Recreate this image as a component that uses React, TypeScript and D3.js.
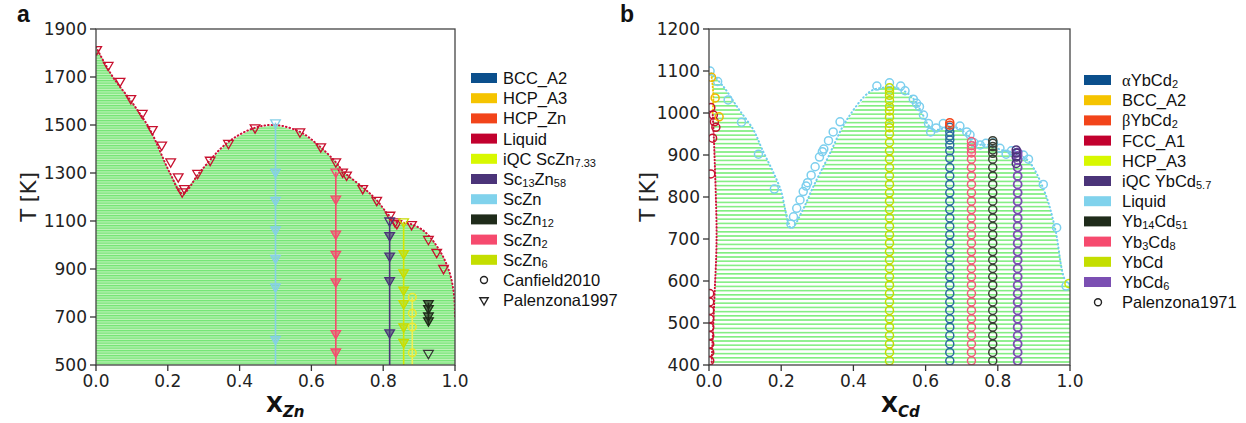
import React from "react";
import * as d3 from "d3";

// ---------------- DATA: panel a (Sc–Zn) ----------------
const aLiquidus: [number, number][] = [
  [0, 1825], [0.047, 1700], [0.1, 1595], [0.15, 1482], [0.206, 1300], [0.241, 1215],
  [0.29, 1305], [0.364, 1424], [0.438, 1486], [0.5, 1500], [0.57, 1470], [0.62, 1415],
  [0.665, 1350], [0.69, 1305], [0.745, 1238], [0.78, 1190], [0.815, 1125], [0.835, 1098],
  [0.855, 1092], [0.88, 1086], [0.912, 1060], [0.94, 1015], [0.967, 951], [0.985, 885],
  [0.993, 835], [0.998, 780], [1.0, 700],
];
const aLiquidTri: [number, number][] = [
  [0.002, 1815], [0.034, 1749], [0.067, 1683], [0.097, 1611], [0.129, 1549], [0.157, 1482],
  [0.183, 1417], [0.208, 1347], [0.229, 1285], [0.246, 1236], [0.240, 1222], [0.283, 1299],
  [0.318, 1354], [0.369, 1424], [0.443, 1489], [0.568, 1472], [0.626, 1410], [0.668, 1347],
  [0.687, 1305], [0.698, 1292], [0.743, 1236], [0.782, 1187], [0.819, 1125], [0.833, 1097],
  [0.838, 1090], [0.879, 1086], [0.926, 1024], [0.949, 970], [0.968, 903],
];
const aScZnT = [1510, 1305, 1187, 1064, 945, 826, 608];
const aScZn2T = [1305, 1192, 1046, 962, 847, 632, 555];
const aSc13Zn58T = [1101, 1040, 955, 852, 635];
const aScZn6T = [1097, 965, 885, 813, 757, 660, 595];
const aIQCT = [782, 716, 658, 551];
const aScZn12T = [757, 736, 705, 685];
const aGrayTri: [number, number][] = [[0.926, 549]];
const aYTicks = [500, 700, 900, 1100, 1300, 1500, 1700, 1900];
const xTicks = [0, 0.2, 0.4, 0.6, 0.8, 1.0];

// ---------------- DATA: panel b (Yb–Cd) ----------------
const bLiquidus: [number, number][] = [
  [0.006, 1095], [0.04, 1063], [0.081, 1011], [0.123, 960], [0.146, 916], [0.197, 821],
  [0.228, 726], [0.26, 770], [0.289, 825], [0.33, 895], [0.381, 983], [0.446, 1051],
  [0.48, 1060], [0.52, 1060], [0.56, 1040], [0.585, 1008], [0.605, 975], [0.62, 960],
  [0.645, 962], [0.667, 968], [0.695, 962], [0.72, 945], [0.74, 926], [0.775, 924],
  [0.81, 912], [0.85, 904], [0.88, 890], [0.9, 868], [0.935, 800], [0.96, 720],
  [0.985, 605], [1.0, 592],
];
const bSolvus: [number, number][] = [
  [0.007, 400], [0.012, 500], [0.016, 580], [0.02, 660], [0.021, 720], [0.019, 800],
  [0.016, 880], [0.013, 950], [0.01, 1000],
];
const bBccLine: [number, number][] = [[0.01, 1000], [0.012, 1040], [0.009, 1075], [0.006, 1095]];
const bLiquidCirc: [number, number][] = [
  [0.003, 1100], [0.024, 1075], [0.053, 1031], [0.09, 978], [0.137, 902], [0.181, 819],
  [0.227, 736], [0.234, 753], [0.243, 773], [0.252, 793], [0.261, 813], [0.269, 826],
  [0.273, 834], [0.283, 852], [0.294, 872], [0.306, 895], [0.314, 908], [0.318, 914],
  [0.331, 934], [0.344, 955], [0.363, 979], [0.465, 1064], [0.5, 1072], [0.531, 1064],
  [0.543, 1053], [0.566, 1033], [0.575, 1023], [0.583, 1015], [0.594, 995], [0.608, 975],
  [0.614, 955], [0.629, 964], [0.649, 975], [0.695, 969], [0.714, 955], [0.723, 948],
  [0.734, 929], [0.751, 924], [0.767, 928], [0.788, 929], [0.806, 916], [0.823, 902],
  [0.838, 910], [0.871, 900], [0.885, 890], [0.926, 830], [0.963, 727], [0.989, 588],
];
const bFccCirc: [number, number][] = [
  [0.002, 410], [0.002, 430], [0.002, 450], [0.002, 470], [0.002, 490], [0.002, 510],
  [0.002, 530], [0.002, 550], [0.002, 570], [0.005, 855], [0.01, 940], [0.019, 966],
  [0.015, 979], [0.012, 995], [0.005, 1013],
];
const bBccCirc: [number, number][] = [[0.007, 1085], [0.017, 1036], [0.028, 991]];
const bHcpCirc: [number, number][] = [[0.997, 594]];
const bYbCdT = [410, 430, 450, 470, 490, 510, 530, 550, 570, 590, 610, 630, 650, 670, 690, 710, 730, 750, 770, 790, 810, 830, 850, 870, 890, 910, 930, 950, 965, 975, 990, 1005, 1015, 1030, 1042, 1052, 1060];
const bAlphaT = [410, 430, 450, 470, 490, 510, 530, 550, 570, 590, 610, 630, 650, 670, 690, 710, 730, 750, 770, 790, 810, 830, 850, 870, 892, 910, 924, 936, 945, 955, 966];
const bBetaT = [971, 977];
const bYb3Cd8T = [410, 430, 450, 470, 490, 510, 530, 550, 570, 590, 610, 630, 650, 670, 690, 710, 730, 750, 770, 790, 810, 830, 850, 870, 890, 905, 914, 922, 932];
const bYb14Cd51T = [410, 430, 450, 470, 490, 510, 530, 550, 570, 590, 610, 630, 650, 670, 690, 710, 730, 750, 770, 790, 810, 830, 850, 870, 890, 904, 912, 920, 928, 934];
const bYbCd6T = [410, 430, 450, 470, 490, 510, 530, 550, 570, 590, 610, 630, 650, 670, 690, 710, 730, 750, 770, 790, 810, 830, 850, 870, 888, 898, 906];
const bIQCT = [880, 895, 905, 912];
const bYTicks = [400, 500, 600, 700, 800, 900, 1000, 1100, 1200];

// ---------------- legends ----------------
const legendA = ["BCC_A2", "HCP_A3", "HCP_Zn", "Liquid", "iQC ScZn_{7.33}", "Sc_{13}Zn_{58}", "ScZn", "ScZn_{12}", "ScZn_{2}", "ScZn_{6}"];
const legendAColors = ["#0b4f8c", "#f5c400", "#f2441a", "#c2002e", "#d8f800", "#4b3479", "#80d2ec", "#1f2b1a", "#f64a6e", "#c4de00"];
const legendB = ["αYbCd_{2}", "BCC_A2", "βYbCd_{2}", "FCC_A1", "HCP_A3", "iQC YbCd_{5.7}", "Liquid", "Yb_{14}Cd_{51}", "Yb_{3}Cd_{8}", "YbCd", "YbCd_{6}"];
const legendBColors = ["#0b4f8c", "#f5c400", "#f2441a", "#c2002e", "#d8f800", "#4b3479", "#80d2ec", "#1f2b1a", "#f64a6e", "#c4de00", "#7b4fb2"];

// ---------------- layout ----------------
const W = 1246, H = 423;
const ax = d3.scaleLinear().domain([0, 1]).range([96, 455]);
const ay = d3.scaleLinear().domain([500, 1900]).range([365, 29]);
const bx = d3.scaleLinear().domain([0, 1]).range([709, 1070]);
const by = d3.scaleLinear().domain([400, 1200]).range([365, 29]);

const TICKF = "DejaVu Sans, sans-serif";
const LEGF = "Liberation Sans, Arial, sans-serif";
const triPath = d3.symbol(d3.symbolTriangle, 40)() as string;

function parseLabel(s: string) {
  const parts: { t: string; sub: boolean }[] = [];
  const re = /_\{([^}]*)\}/g;
  let last = 0;
  let m: RegExpExecArray | null;
  while ((m = re.exec(s))) {
    if (m.index > last) parts.push({ t: s.slice(last, m.index), sub: false });
    parts.push({ t: m[1], sub: true });
    last = m.index + m[0].length;
  }
  if (last < s.length) parts.push({ t: s.slice(last), sub: false });
  return parts;
}

function LegendLabel({ x, y, label }: { x: number; y: number; label: string }) {
  const parts = parseLabel(label);
  let prevSub = false;
  return (
    <text x={x} y={y} fontFamily={LEGF} fontSize={16.5} fill="#111" dominantBaseline="central">
      {parts.map((p, i) => {
        const dy = p.sub && !prevSub ? 4 : !p.sub && prevSub ? -4 : 0;
        prevSub = p.sub;
        const chars = p.t.startsWith("α") || p.t.startsWith("β");
        if (chars) {
          return (
            <React.Fragment key={i}>
              <tspan fontFamily="Liberation Serif, serif" dy={dy}>{p.t[0]}</tspan>
              <tspan>{p.t.slice(1)}</tspan>
            </React.Fragment>
          );
        }
        return (
          <tspan key={i} dy={dy} fontSize={p.sub ? 11 : 16.5}>{p.t}</tspan>
        );
      })}
    </text>
  );
}

function Frame({ xs, ys, yTicks, yFmt }: { xs: any; ys: any; yTicks: number[]; yFmt: (v: number) => string }) {
  const [x0, x1] = xs.range();
  const [y1, y0] = ys.range();
  return (
    <g>
      <rect x={x0} y={y0} width={x1 - x0} height={y1 - y0} fill="none" stroke="#444" strokeWidth={1.3} />
      {yTicks.map((t) => (
        <g key={"y" + t}>
          <line x1={x0 - 6} x2={x0} y1={ys(t)} y2={ys(t)} stroke="#333" strokeWidth={1.3} />
          <text x={x0 - 9} y={ys(t)} textAnchor="end" dominantBaseline="central" fontFamily={TICKF} fontSize={17} fill="#222">
            {yFmt(t)}
          </text>
        </g>
      ))}
      {xTicks.map((t) => (
        <g key={"x" + t}>
          <line x1={xs(t)} x2={xs(t)} y1={y1} y2={y1 + 6} stroke="#333" strokeWidth={1.3} />
          <text x={xs(t)} y={y1 + 22} textAnchor="middle" fontFamily={TICKF} fontSize={17} fill="#222">
            {d3.format(".1f")(t)}
          </text>
        </g>
      ))}
    </g>
  );
}

export default function App() {
  const lineA = d3.line<[number, number]>().x((d) => ax(d[0])).y((d) => ay(d[1])).curve(d3.curveCatmullRom);
  const lineB = d3.line<[number, number]>().x((d) => bx(d[0])).y((d) => by(d[1])).curve(d3.curveCatmullRom);

  const areaAPts: [number, number][] = [[0, 500], ...aLiquidus, [1, 500]];
  const areaBPts: [number, number][] = [...bSolvus, ...bBccLine.slice(1), ...bLiquidus.slice(1), [1, 400]];
  const areaA = d3.line<[number, number]>().x((d) => ax(d[0])).y((d) => ay(d[1])).curve(d3.curveLinear)(areaAPts) + "Z";
  const areaB = d3.line<[number, number]>().x((d) => bx(d[0])).y((d) => by(d[1])).curve(d3.curveLinear)(areaBPts) + "Z";

  const vlineA = (x: number, tTop: number, tBot: number, col: string, w = 1.6) => (
    <line x1={ax(x)} x2={ax(x)} y1={ay(tTop)} y2={ay(tBot)} stroke={col} strokeWidth={w} />
  );
  const trisA = (x: number, ts: number[], col: string, openTop: boolean, key: string) =>
    ts.map((t, i) => (
      <path key={key + i} d={triPath} transform={`translate(${ax(x)},${ay(t)}) rotate(180)`}
        fill={openTop && i === 0 ? "none" : col} fillOpacity={0.6} stroke={col} strokeWidth={1.3} />
    ));
  const circs = (pts: [number, number][], col: string, key: string, sx: any, sy: any, sw = 1.5) =>
    pts.map((p, i) => (
      <circle key={key + i} cx={sx(p[0])} cy={sy(p[1])} r={4} fill="none" stroke={col} strokeWidth={sw} />
    ));
  const colB = (x: number, ts: number[]) => ts.map((t) => [x, t] as [number, number]);

  return (
    <svg width={W} height={H} style={{ position: "absolute", left: 0, top: 0, background: "#fff" }}>
      <defs>
        <pattern id="stripeA" patternUnits="userSpaceOnUse" width={8} height={2.5}>
          <rect x={0} y={0} width={8} height={2.5} fill="#c2f4bc" />
          <rect x={0} y={0} width={8} height={1.3} fill="#74e474" />
        </pattern>
        <pattern id="stripeB" patternUnits="userSpaceOnUse" width={8} height={4.2}>
          <rect x={0} y={0} width={8} height={1.6} fill="#80ee80" />
        </pattern>
        <clipPath id="clipA"><rect x={ax(0)} y={ay(1900)} width={ax(1) - ax(0)} height={ay(500) - ay(1900)} /></clipPath>
        <clipPath id="clipB"><rect x={bx(0)} y={by(1200)} width={bx(1) - bx(0)} height={by(400) - by(1200)} /></clipPath>
      </defs>

      {/* ---------- panel a ---------- */}
      <g clipPath="url(#clipA)">
        <path d={areaA} fill="url(#stripeA)" />
        <path d={lineA(aLiquidus) as string} fill="none" stroke="#d0103a" strokeWidth={2} strokeDasharray="0.6 3" strokeLinecap="round" />
        {vlineA(0.5, 1510, 500, "#86cfe8")}
        {vlineA(0.668, 1305, 500, "#f64a6e")}
        {vlineA(0.818, 1101, 500, "#4b3479")}
        {vlineA(0.857, 1097, 500, "#d6e600")}
        {vlineA(0.881, 782, 500, "#f2f050")}
        {vlineA(0.926, 760, 665, "#1f2b1a", 1.8)}
        {aLiquidTri.map((p, i) => (
          <path key={"lt" + i} d={triPath} transform={`translate(${ax(p[0])},${ay(p[1])}) rotate(180)`} fill="none" stroke="#c8102e" strokeWidth={1.3} />
        ))}
        {trisA(0.5, aScZnT, "#86cfe8", true, "sczn")}
        {trisA(0.668, aScZn2T, "#f64a6e", true, "sczn2")}
        {trisA(0.818, aSc13Zn58T, "#4b3479", true, "sc13")}
        {trisA(0.857, aScZn6T, "#c8dc00", true, "sczn6")}
        {trisA(0.926, aScZn12T, "#1f2b1a", false, "sczn12")}
        {aGrayTri.map((p, i) => (
          <path key={"gt" + i} d={triPath} transform={`translate(${ax(p[0])},${ay(p[1])}) rotate(180)`} fill="none" stroke="#333" strokeWidth={1.3} />
        ))}
        {aIQCT.map((t, i) => (
          <circle key={"iqc" + i} cx={ax(0.881)} cy={ay(t)} r={3.8} fill="none" stroke="#eaea30" strokeWidth={1.6} />
        ))}
      </g>
      <Frame xs={ax} ys={ay} yTicks={aYTicks} yFmt={(v) => String(v)} />
      <text x={17} y={22} fontFamily={LEGF} fontWeight="bold" fontSize={23} fill="#111">a</text>
      <text transform="translate(36,197) rotate(-90)" textAnchor="middle" fontFamily={TICKF} fontSize={21} fill="#222">T [K]</text>
      <text x={266} y={412} fontFamily={TICKF} fontWeight="bold" fontSize={22} fill="#111">
        X<tspan dy={5} fontSize={15} fontStyle="italic">Zn</tspan>
      </text>
      {legendA.map((l, i) => (
        <g key={"la" + i}>
          <rect x={471} y={78 + i * 20.2 - 5} width={26} height={10} fill={legendAColors[i]} />
          <LegendLabel x={503} y={78 + i * 20.2} label={l} />
        </g>
      ))}
      <circle cx={484} cy={78 + 10 * 20.2} r={3.5} fill="none" stroke="#222" strokeWidth={1.4} />
      <LegendLabel x={503} y={78 + 10 * 20.2} label="Canfield2010" />
      <path d={d3.symbol(d3.symbolTriangle, 30)() as string} transform={`translate(484,${78 + 11 * 20.2}) rotate(180)`} fill="none" stroke="#222" strokeWidth={1.4} />
      <LegendLabel x={503} y={78 + 11 * 20.2} label="Palenzona1997" />

      {/* ---------- panel b ---------- */}
      <g clipPath="url(#clipB)">
        <path d={areaB} fill="url(#stripeB)" />
        <path d={lineB(bLiquidus) as string} fill="none" stroke="#70cdee" strokeWidth={2} strokeDasharray="0.6 3.2" strokeLinecap="round" />
        <path d={lineB(bSolvus) as string} fill="none" stroke="#d0103a" strokeWidth={2} strokeDasharray="0.6 2.6" strokeLinecap="round" />
        <path d={lineB(bBccLine) as string} fill="none" stroke="#f5c400" strokeWidth={2} strokeDasharray="0.6 2.6" strokeLinecap="round" />
        {circs(bLiquidCirc, "#7ccfee", "lc", bx, by)}
        {circs(bFccCirc, "#c8102e", "fc", bx, by)}
        {circs(bBccCirc, "#f0b800", "bc", bx, by)}
        {circs(bHcpCirc, "#d0e800", "hc", bx, by)}
        {circs(colB(0.5, bYbCdT), "#c4dc00", "yc", bx, by)}
        {circs(colB(0.667, bAlphaT), "#2a6aa0", "al", bx, by)}
        {circs(colB(0.667, bBetaT), "#f2441a", "be", bx, by)}
        {circs(colB(0.727, bYb3Cd8T), "#f45a78", "y38", bx, by)}
        {circs(colB(0.786, bYb14Cd51T), "#3a3f35", "y14", bx, by)}
        {circs(colB(0.855, bYbCd6T), "#7b4fb2", "y6", bx, by, 1.8)}
        {circs(colB(0.851, bIQCT), "#4b3479", "iq", bx, by)}
      </g>
      <Frame xs={bx} ys={by} yTicks={bYTicks} yFmt={(v) => String(v)} />
      <text x={620} y={22} fontFamily={LEGF} fontWeight="bold" fontSize={23} fill="#111">b</text>
      <text transform="translate(655,197) rotate(-90)" textAnchor="middle" fontFamily={TICKF} fontSize={21} fill="#222">T [K]</text>
      <text x={881} y={412} fontFamily={TICKF} fontWeight="bold" fontSize={22} fill="#111">
        X<tspan dy={5} fontSize={15} fontStyle="italic">Cd</tspan>
      </text>
      {legendB.map((l, i) => (
        <g key={"lb" + i}>
          <rect x={1084} y={80 + i * 20.2 - 5} width={27} height={10} fill={legendBColors[i]} />
          <LegendLabel x={1122} y={80 + i * 20.2} label={l} />
        </g>
      ))}
      <circle cx={1098} cy={80 + 11 * 20.2} r={3.5} fill="none" stroke="#222" strokeWidth={1.4} />
      <LegendLabel x={1122} y={80 + 11 * 20.2} label="Palenzona1971" />
    </svg>
  );
}
